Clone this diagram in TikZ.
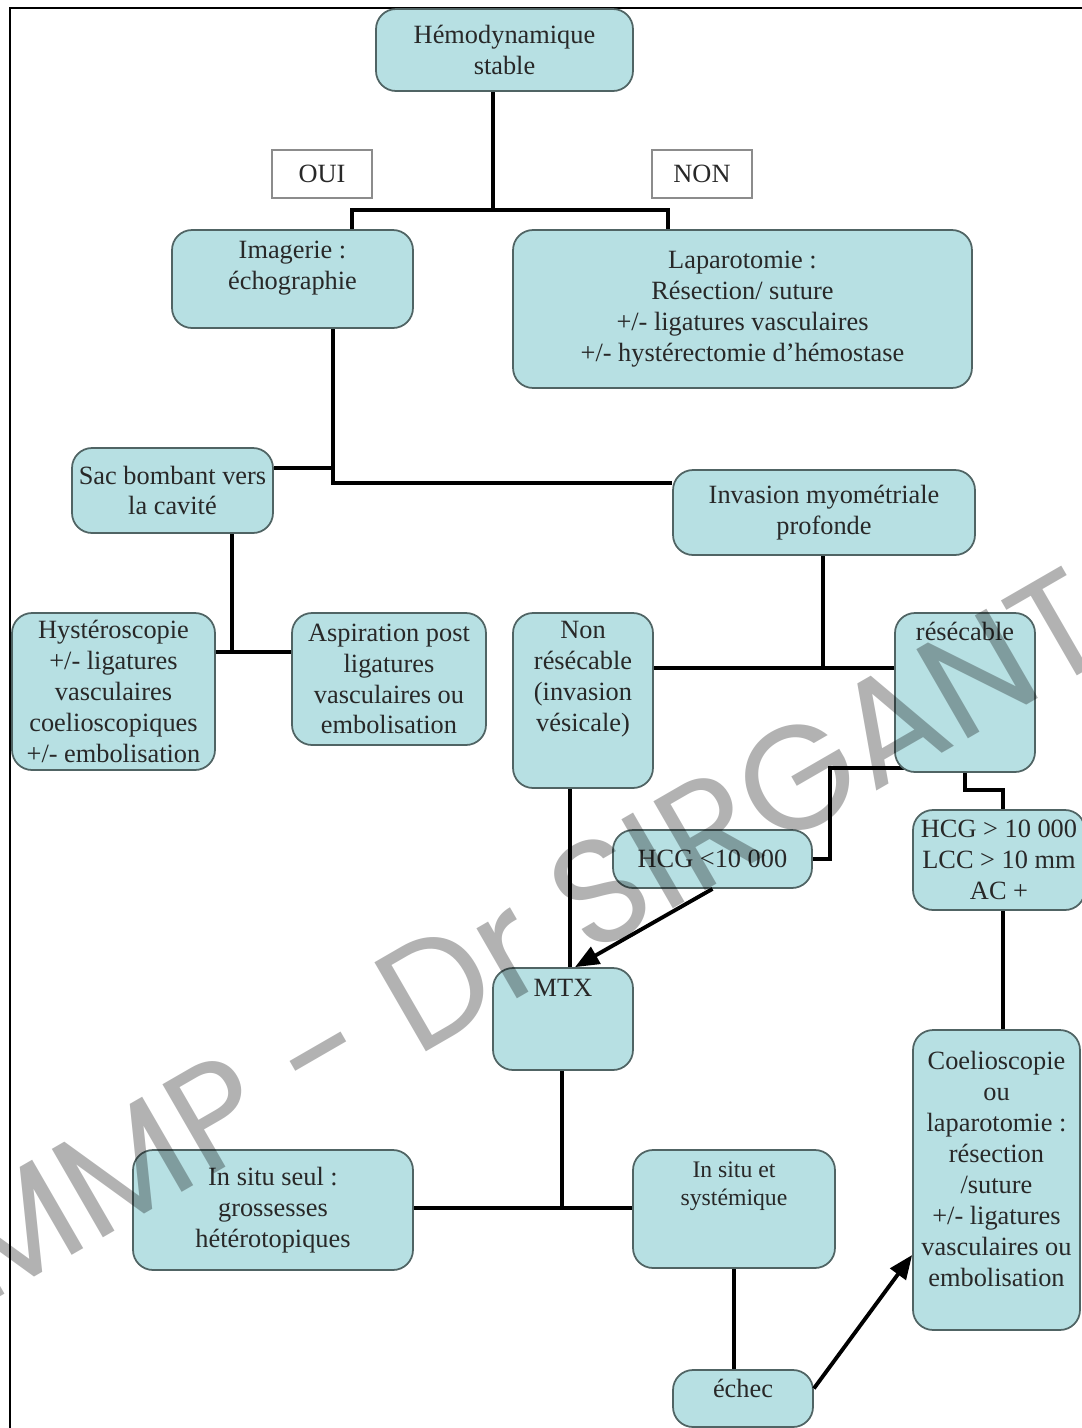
\documentclass[tikz,border=0pt]{standalone}
\usepackage{fontspec}
\setmainfont{Liberation Serif}
\newfontfamily\wmfont{Poppins}
\usetikzlibrary{positioning,arrows.meta,backgrounds}
\definecolor{boxfill}{RGB}{183,224,227}
\definecolor{boxline}{RGB}{80,100,100}
\definecolor{txtgray}{RGB}{40,40,40}
\definecolor{taggray}{RGB}{140,140,140}
\tikzset{
	box/.style={draw=boxline,fill=boxfill,line width=1pt,rounded corners=0.4cm,text=txtgray,align=center,inner sep=0pt},
	tag/.style={draw=taggray,fill=white,line width=0.8pt,minimum width=2cm,minimum height=0.96cm,text=txtgray},
	txt/.style={text=txtgray,align=center,inner sep=0pt},
	link/.style={black,line width=2.2pt},
	arrowlink/.style={link,-{Triangle[length=0.48cm,width=0.38cm]}},
}
\begin{document}
\begin{tikzpicture}[x=0.02cm,y=-0.02cm,font=\fontsize{15}{17.6}\selectfont]
		\useasboundingbox (0,0) rectangle (1082,1428);
		\clip (0,0) rectangle (1082,1428);
		% boxes
		\node[box,minimum width=5.14cm,minimum height=1.64cm](hemo) at (504.5,50){Hémodynamique\\stable};
		\node[tag](oui) at (322,174){OUI};
		\node[tag](non) at (702,174){NON};
		\node[box,minimum width=4.82cm,minimum height=1.96cm](imagerie) at (292.5,279){};
		\node[txt,below=0.24cm of imagerie.north](imageriétxt){Imagerie :\\échographie};
		\node[box,minimum width=9.18cm,minimum height=3.16cm](laparo) at (742.5,309){Laparotomie :\\Résection/ suture\\+/- ligatures vasculaires\\+/- hystérectomie d’hémostase};
		\node[box,minimum width=4.02cm,minimum height=1.70cm](sac) at (172.5,490.5){Sac bombant vers\\la cavité};
		\node[box,minimum width=6.04cm,minimum height=1.70cm](invasion) at (824,512.5){Invasion myométriale\\profonde};
		\node[box,minimum width=4.06cm,minimum height=3.14cm](hystero) at (113.5,691.5){Hystéroscopie\\+/- ligatures\\vasculaires\\coelioscopiques\\+/- embolisation};
		\node[box,minimum width=3.88cm,minimum height=2.64cm](aspiration) at (389,679){Aspiration post\\ligatures\\vasculaires ou\\embolisation};
		\node[box,minimum width=2.80cm,minimum height=3.50cm](nonres) at (583,700.5){};
		\node[txt,below=0.18cm of nonres.north](nonrestxt){Non\\résécable\\(invasion\\vésicale)};
		\node[box,minimum width=2.80cm,minimum height=3.18cm](resec) at (965,692.5){};
		\node[txt,below=0.2cm of resec.north](resectxt){résécable};
		\node[box,minimum width=3.98cm,minimum height=1.16cm](hcglow) at (712.5,859){HCG <10 000};
		\node[box,minimum width=3.44cm,minimum height=2.00cm](hcghigh) at (999,860){HCG > 10 000\\LCC > 10 mm\\AC +};
		\node[box,minimum width=2.80cm,minimum height=2.04cm](mtx) at (563,1019){};
		\node[txt,below=0.24cm of mtx.north](mtxtxt){MTX};
		\node[box,minimum width=5.60cm,minimum height=2.40cm](insitu) at (273,1210){In situ seul :\\grossesses\\hétérotopiques};
		\node[box,minimum width=4.04cm,minimum height=2.36cm](systemique) at (734,1209){};
		\node[txt,font=\fontsize{13.5}{15.9}\selectfont,below=0.24cm of systemique.north](systemiquetxt){In situ et\\systémique};
		\node[box,minimum width=2.80cm,minimum height=1.14cm](echec) at (743,1398.5){};
		\node[txt,below=0.2cm of echec.north](echectxt){échec};
		\node[box,minimum width=3.34cm,minimum height=6.00cm](coelio) at (996.5,1180){};
		\node[txt,below=0.44cm of coelio.north](coeliotxt){Coelioscopie\\ou\\laparotomie :\\résection\\/suture\\+/- ligatures\\vasculaires ou\\embolisation};
		% junctions
		\coordinate (j1) at (493,210);
		\coordinate (j1l) at (352,210);
		\coordinate (j1r) at (668,210);
		\coordinate (j2) at (333,468);
		\coordinate (j3) at (333,483);
		\coordinate (j4) at (232,652);
		\coordinate (j5) at (823,668);
		\coordinate (j6) at (830,768);
		\coordinate (j7) at (570,968);
		\coordinate (j8) at (562,1208);
		\coordinate (j9) at (1003,790);
		\begin{scope}[on background layer]
			\draw[line width=1.2pt](10,1428)--(10,8)--(1082,8);
			\draw[link](hemo.south -| j1)--(j1);
			\draw[link](imagerie.north -| j1l)--(j1l)--(j1r)--(laparo.north -| j1r);
			\draw[link](imagerie.south -| j2)--(j3)--(invasion.west |- j3);
			\draw[link](sac.east |- j2)--(j2);
			\draw[link](sac.south -| j4)--(j4);
			\draw[link](hystero.east |- j4)--(aspiration.west |- j4);
			\draw[link](invasion.south -| j5)--(j5);
			\draw[link](nonres.east |- j5)--(resec.west |- j5);
			\draw[link](hcglow.east) -| (j6)--(resec.center |- j6);
			\draw[link](nonres.south -| j7)--(j7);
			\draw[link](resec.south) |- (j9)--(j9 |- hcghigh.north);
			\draw[link](j9 |- hcghigh.south)--(j9 |- coelio.north);
			\draw[link](mtx.south -| j8)--(j8);
			\draw[link](insitu.east |- j8)--(systemique.west |- j8);
			\draw[link](systemique.south)--(systemique.south |- echec.north);
		\end{scope}
		\draw[arrowlink](hcglow.south)--([xshift=0.24cm]mtx.north);
		\draw[arrowlink]([yshift=0.2cm]echec.east)--([yshift=-1.5cm]coelio.west);
		% watermark
		\node[text=black,opacity=0.3,rotate=30,font=\wmfont\fontsize{84}{84}\selectfont,inner sep=0pt](wm) at (525,935){MMP - Dr SIRGANT};
	\end{tikzpicture}
\end{document}
